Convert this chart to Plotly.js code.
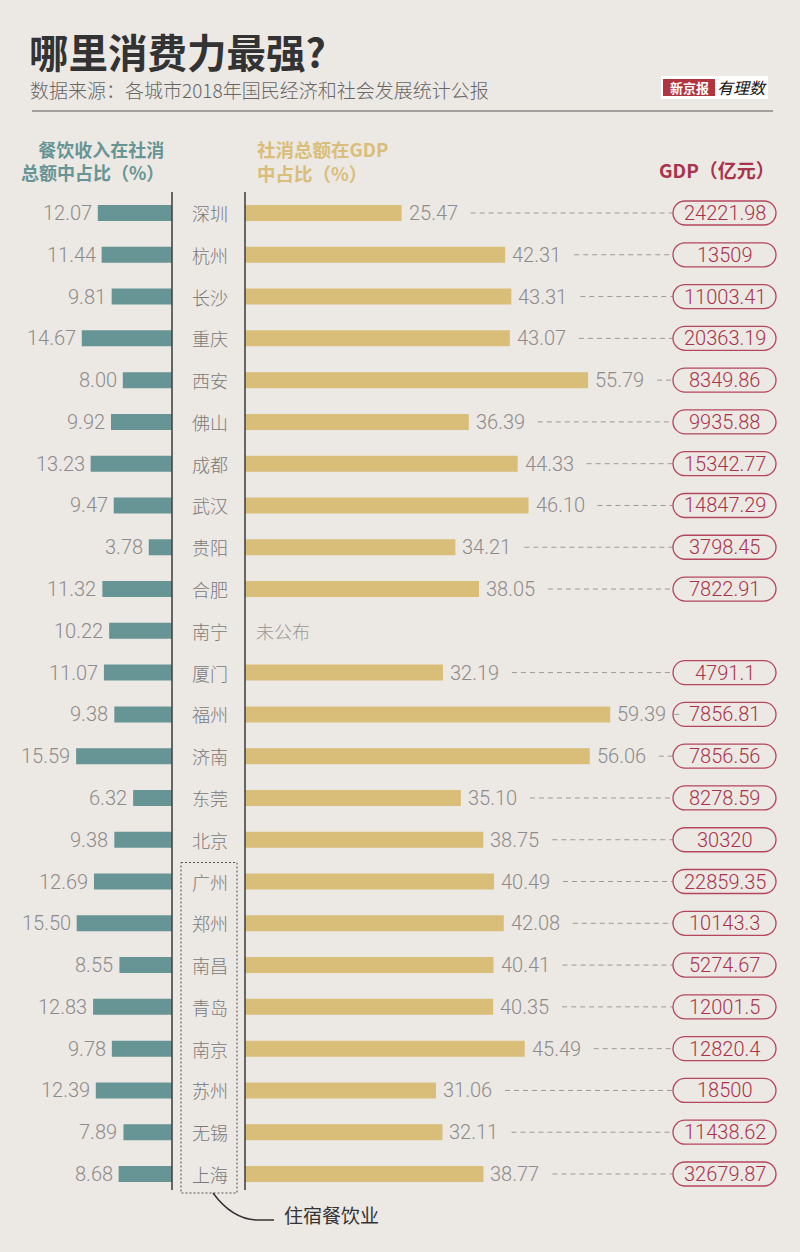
<!DOCTYPE html>
<html><head><meta charset="utf-8">
<script src="https://cdn.plot.ly/plotly-3.0.1.min.js"></script>
<style>html,body{margin:0;padding:0;background:#ece8e4;}</style>
</head><body><div id="chart" style="width:800px;height:1252px;"></div>
<script>
// ---------------- data ----------------
const cities = ["深圳","杭州","长沙","重庆","西安","佛山","成都","武汉","贵阳","合肥","南宁","厦门","福州","济南","东莞","北京","广州","郑州","南昌","青岛","南京","苏州","无锡","上海"];
const cateringShare = [12.07,11.44,9.81,14.67,8.00,9.92,13.23,9.47,3.78,11.32,10.22,11.07,9.38,15.59,6.32,9.38,12.69,15.50,8.55,12.83,9.78,12.39,7.89,8.68];
const retailShare = [25.47,42.31,43.31,43.07,55.79,36.39,44.33,46.10,34.21,38.05,null,32.19,59.39,56.06,35.10,38.75,40.49,42.08,40.41,40.35,45.49,31.06,32.11,38.77];
const gdp = [24221.98,13509,11003.41,20363.19,8349.86,9935.88,15342.77,14847.29,3798.45,7822.91,null,4791.1,7856.81,7856.56,8278.59,30320,22859.35,10143.3,5274.67,12001.5,12820.4,18500,11438.62,32679.87];
const groupStart = "广州", groupEnd = "上海", groupLabel = "住宿餐饮业";

// ---------------- layout constants ----------------
const W = 800, H = 1252;
const PXU = 6.15;               // pixels per percentage point
const tealRight = 172, tanLeft = 245;
const rowTop = 213, rowBottom = 1174;
const n = cities.length;
const step = (rowBottom - rowTop) / (n - 1);
const domTop = rowTop - step / 2, domBot = rowBottom + step / 2;
const fx = px => px / W, fy = py => 1 - py / H;
const boxLeft = 673, boxW = 103, boxH = 24;

const BG = "#ece8e4", TEAL = "#679595", TAN = "#d9be7a", CRIMSON = "#a8334b";
const NUM = "Roboto, 'Liberation Sans', sans-serif";
const CJK = "'Noto Sans CJK SC', 'Noto Sans', sans-serif";
const idx = cities.map((c, i) => i);

const traces = [
  {type: "bar", orientation: "h", x: cateringShare, y: idx, xaxis: "x", yaxis: "y",
   width: 16 / step, marker: {color: TEAL}, hoverinfo: "skip"},
  {type: "bar", orientation: "h", x: retailShare, y: idx, xaxis: "x2", yaxis: "y",
   width: 16 / step, marker: {color: TAN}, hoverinfo: "skip"}
];

const annotations = [];
const shapes = [];
function pann(text, x, y, opts) {
  annotations.push(Object.assign({text, x: fx(x), y: fy(y), xref: "paper", yref: "paper",
    showarrow: false, xanchor: "left", yanchor: "middle"}, opts));
}

// title / subtitle / logo
pann("哪里消费力最强?", 27, 50, {font: {family: CJK, size: 39.5, color: "#333", weight: 700}});
pann("数据来源：各城市2018年国民经济和社会发展统计公报", 28, 90, {font: {family: CJK, size: 19, color: "#666", weight: 300}});
shapes.push({type: "line", xref: "paper", yref: "paper", x0: fx(32), x1: fx(773), y0: fy(111), y1: fy(111),
  line: {color: "#8a8a8a", width: 1.5}});
shapes.push({type: "rect", xref: "paper", yref: "paper", x0: fx(661), x1: fx(768), y0: fy(76), y1: fy(99),
  fillcolor: "#ffffff", line: {width: 0}});
shapes.push({type: "rect", xref: "paper", yref: "paper", x0: fx(663), x1: fx(715), y0: fy(79), y1: fy(96),
  fillcolor: "#b0353f", line: {width: 0}});
pann("新京报", 689, 87.5, {xanchor: "center", font: {family: CJK, size: 13, color: "#fff", weight: 700}});
pann("<i>有理数</i>", 742, 87, {xanchor: "center", font: {family: CJK, size: 16, color: "#111", weight: 400}});

// headers (two-line blocks)
pann("餐饮收入在社消<br>总额中占比（%）", 166, 161, {xanchor: "right", align: "right",
  font: {family: CJK, size: 18, color: TEAL, weight: 700}});
pann("社消总额在GDP<br>中占比（%）", 255, 161, {align: "left",
  font: {family: CJK, size: 18.5, color: TAN, weight: 700}});
pann("GDP（亿元）", 777, 169, {xanchor: "right", font: {family: CJK, size: 19, color: CRIMSON, weight: 700}});

// divider lines
[tealRight, tanLeft].forEach(xp => shapes.push({type: "line", xref: "paper", yref: "paper",
  x0: fx(xp), x1: fx(xp), y0: fy(192), y1: fy(1190), line: {color: "#444", width: 1.6}}));

// stadium path (pixels, relative to anchor)
function stadium(w, h) {
  const r = h / 2, k = 0.5523 * r;
  return `M${r},${r} L${w - r},${r} C${w - r + k},${r} ${w},${k} ${w},0 C${w},${-k} ${w - r + k},${-r} ${w - r},${-r} ` +
         `L${r},${-r} C${r - k},${-r} 0,${-k} 0,0 C0,${k} ${r - k},${r} ${r},${r} Z`;
}

cities.forEach((c, i) => {
  // teal value
  annotations.push({xref: "x", yref: "y", x: cateringShare[i], y: i, xanchor: "right", yanchor: "middle",
    xshift: -4, showarrow: false, text: cateringShare[i].toFixed(2),
    font: {family: NUM, size: 20, color: "#8c8c8c", weight: 300}});
  // city
  annotations.push({xref: "paper", yref: "y", x: fx(210), y: i, xanchor: "center", yanchor: "middle",
    showarrow: false, text: c, font: {family: CJK, size: 18, color: "#7a7a7a", weight: 300}});
  if (retailShare[i] == null) {
    annotations.push({xref: "x2", yref: "y", x: 0, y: i, xanchor: "left", yanchor: "middle", xshift: 9,
      showarrow: false, text: "未公布", font: {family: CJK, size: 18, color: "#999", weight: 300}});
    return;
  }
  annotations.push({xref: "x2", yref: "y", x: retailShare[i], y: i, xanchor: "left", yanchor: "middle",
    xshift: 5, showarrow: false, text: retailShare[i].toFixed(2),
    font: {family: NUM, size: 20, color: "#8c8c8c", weight: 300}});
  shapes.push({type: "line", xref: "x2", yref: "y", x0: retailShare[i] + 69 / PXU, x1: (boxLeft - tanLeft) / PXU,
    y0: i, y1: i, line: {color: "#9a9a9a", width: 1, dash: "5px,4px"}});
  shapes.push({type: "path", xref: "paper", xsizemode: "pixel", xanchor: fx(boxLeft),
    yref: "y", ysizemode: "pixel", yanchor: i, path: stadium(boxW, boxH),
    line: {color: "#b4465c", width: 1.3}, fillcolor: "rgba(0,0,0,0)"});
  annotations.push({xref: "paper", yref: "y", x: fx(boxLeft + boxW / 2), y: i, xanchor: "center", yanchor: "middle",
    showarrow: false, text: String(gdp[i]), font: {family: NUM, size: 20, color: CRIMSON, weight: 300}});
});

// group bracket (dotted rectangle around the hotel & catering cities)
const gs = cities.indexOf(groupStart), ge = cities.indexOf(groupEnd);
const rowPx = i => rowTop + i * step;
const gTop = rowPx(gs) - 19, gBot = rowPx(ge) + 19;
shapes.push({type: "rect", xref: "paper", yref: "paper", x0: fx(181), x1: fx(237), y0: fy(gTop), y1: fy(gBot),
  line: {color: "#555", width: 1, dash: "2px,2px"}});
const P = (x, y) => `${fx(x)},${fy(y)}`;
shapes.push({type: "path", xref: "paper", yref: "paper",
  path: `M${P(213, gBot)} Q${P(233, gBot + 27)} ${P(258, gBot + 27)} L${P(274, gBot + 27)}`,
  line: {color: "#333", width: 1.5}});
pann(groupLabel, 282, gBot + 21, {font: {family: CJK, size: 19, color: "#333", weight: 400}});

const layout = {
  width: W, height: H, margin: {l: 0, r: 0, t: 0, b: 0},
  paper_bgcolor: BG, plot_bgcolor: BG, showlegend: false,
  xaxis: {domain: [0, fx(tealRight)], range: [tealRight / PXU, 0], visible: false, fixedrange: true},
  xaxis2: {domain: [fx(tanLeft), 1], range: [0, (W - tanLeft) / PXU], visible: false, anchor: "y", fixedrange: true},
  yaxis: {domain: [fy(domBot), fy(domTop)], range: [n - 0.5, -0.5], visible: false, fixedrange: true},
  annotations, shapes
};
Plotly.newPlot("chart", traces, layout, {staticPlot: true, displayModeBar: false});
</script></body></html>
